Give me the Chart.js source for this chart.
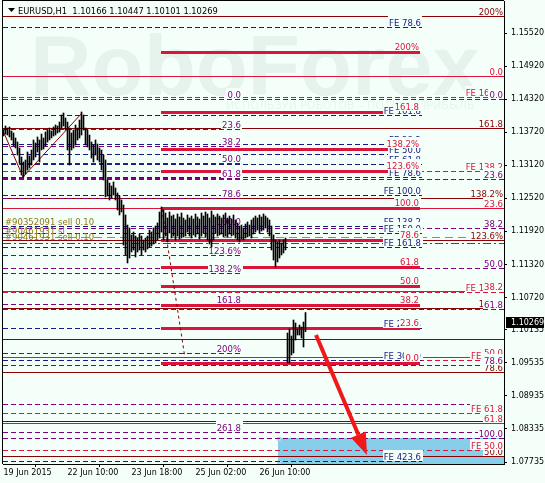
<!DOCTYPE html>
<html lang="en">
<head>
<meta charset="UTF-8" />
<title>EURUSD,H1</title>
<script src="https://cdn.jsdelivr.net/npm/chart.js"></script>
<style>
  html, body { margin: 0; padding: 0; background: #F5FFFA; }
  #wrap { width: 545px; height: 483px; }
</style>
</head>
<body>
<div id="wrap"><canvas id="chart" width="545" height="483"></canvas></div>
<script>
// quote shown in the title line
const symbolName = 'EURUSD,H1';
const quoteOHLC = [1.10166, 1.10447, 1.10101, 1.10269];

// H1 bars, 19 Jun 2015 02:00 .. 29 Jun 2015 09:00
const highs = [
  1.13760,1.13833,1.13796,1.13814,1.13742,1.13706,1.13615,1.13542,1.13433,1.13270,
  1.13179,1.13216,1.13361,1.13288,1.13397,1.13579,1.13524,1.13633,1.13579,1.13687,
  1.13615,1.13724,1.13760,1.13796,1.13742,1.13814,1.13851,1.13833,1.13905,1.14032,
  1.14069,1.13978,1.13905,1.13796,1.13706,1.13760,1.13851,1.13796,1.13941,1.14087,
  1.14032,1.13796,1.13760,1.13669,1.13542,1.13488,1.13579,1.13506,1.13433,1.13397,
  1.13306,1.13216,1.12853,1.12798,1.12744,1.12817,1.12707,1.12617,1.12563,1.12490,
  1.12399,1.12218,1.12036,1.11982,1.11855,1.11909,1.11836,1.11800,1.11873,1.11836,
  1.11764,1.11800,1.11836,1.11945,1.11909,1.11982,1.12018,1.12073,1.12272,1.12363,
  1.12308,1.12254,1.12163,1.12272,1.12199,1.12218,1.12145,1.12236,1.12181,1.12254,
  1.12163,1.12127,1.12218,1.12163,1.12199,1.12145,1.12236,1.12181,1.12145,1.12254,
  1.12199,1.12272,1.12236,1.12163,1.12290,1.12218,1.12181,1.12236,1.12199,1.12163,
  1.12218,1.12254,1.12163,1.12199,1.12145,1.12218,1.12127,1.12073,1.12018,1.12036,
  1.11982,1.12054,1.12091,1.12036,1.12127,1.12163,1.12199,1.12163,1.12218,1.12181,
  1.12236,1.12199,1.12163,1.12127,1.12018,1.11855,1.11764,1.11728,1.11764,1.11709,
  1.11764,1.11800,
  1.10076,1.10149,1.10022,1.10312,1.10258,1.10149,1.10221,1.10185,1.10276,1.10447
];
const lows = [
  1.13651,1.13687,1.13669,1.13633,1.13579,1.13470,1.13433,1.13306,1.13161,1.12944,
  1.12907,1.12962,1.13034,1.13070,1.13125,1.13216,1.13270,1.13361,1.13179,1.13397,
  1.13415,1.13470,1.13542,1.13579,1.13615,1.13651,1.13669,1.13706,1.13724,1.13796,
  1.13833,1.13760,1.13397,1.13125,1.13397,1.13433,1.13488,1.13579,1.13615,1.13669,
  1.13760,1.13488,1.13452,1.13397,1.13252,1.13179,1.13306,1.13216,1.13179,1.13034,
  1.12853,1.12545,1.12563,1.12490,1.12526,1.12581,1.12490,1.12308,1.12218,1.12272,
  1.11673,1.11492,1.11347,1.11437,1.11546,1.11583,1.11455,1.11546,1.11583,1.11492,
  1.11583,1.11546,1.11601,1.11637,1.11655,1.11691,1.11709,1.11764,1.11800,1.11909,
  1.11764,1.11836,1.11728,1.11891,1.11800,1.11836,1.11764,1.11836,1.11782,1.11800,
  1.11818,1.11836,1.11909,1.11836,1.11800,1.11855,1.11818,1.11873,1.11782,1.11836,
  1.11891,1.11818,1.11764,1.11691,1.11637,1.11764,1.11891,1.11836,1.11855,1.11873,
  1.11818,1.11836,1.11818,1.11873,1.11836,1.11855,1.11800,1.11764,1.11728,1.11782,
  1.11764,1.11800,1.11818,1.11836,1.11800,1.11873,1.11909,1.11945,1.11891,1.11927,
  1.11945,1.11982,1.11909,1.11836,1.11583,1.11401,1.11274,1.11365,1.11437,1.11492,
  1.11528,1.11583,
  1.09532,1.09532,1.09677,1.09714,1.09949,1.10040,1.10040,1.09985,1.09822,1.10101
];

// axes
const priceTicks = [1.15520, 1.14920, 1.14320, 1.13720, 1.13120, 1.12520, 1.11920,
  1.11320, 1.10720, 1.10135, 1.09535, 1.08935, 1.08335, 1.07735];
const timeTickBars = [0, 32, 64, 96, 128];
const timeTickLabels = ['19 Jun 2015', '22 Jun 10:00', '23 Jun 18:00', '25 Jun 02:00', '26 Jun 10:00'];
const priceMin = 1.07699, priceMax = 1.16101;
const barMin = -0.25, barMax = 250.25;

// fibo levels (price) and their captions
const maroonLevels = [1.15834, 1.13802, 1.12526, 1.11764, 1.10521, 1.09369, 1.08480, 1.07850];
const maroonTexts  = ['200%', '161.8', '138.2%', '123.6%', '100.0', '78.6', '61.8', '50.0'];
const crimsonDashLevels = [1.14364, 1.13022, 1.10826, 1.09592, 1.08625, 1.07953];
const crimsonDashTexts  = ['FE 161.8', 'FE 138.2', 'FE 100.0', 'FE 78.6', 'FE 61.8', 'FE 50.0'];
const crimsonLevels = [1.14740, 1.12339, 1.10844, 1.09635, 1.08434];
const crimsonTexts  = ['0.0', '23.6', '38.2', '50.0', '61.8'];
const purpleLevels = [1.14323, 1.12871, 1.11982, 1.11256, 1.10512, 1.09490, 1.08171];
const purpleTexts  = ['0.0', '23.6', '38.2', '50.0', '61.8', '78.6', '100.0'];
const violetLevels = [1.14323, 1.13787, 1.13470, 1.13170, 1.12898, 1.12517, 1.12018,
  1.11492, 1.11160, 1.10597, 1.09708, 1.08280];
const violetTexts  = ['0.0', '23.6', '38.2', '50.0', '61.8', '78.6', '100.0',
  '123.6%', '138.2%', '161.8', '200%', '261.8'];
const navyLevels = [1.15624, 1.14032, 1.13506, 1.13325, 1.13152, 1.12916, 1.12572,
  1.12018, 1.11891, 1.11642, 1.10167, 1.09581, 1.07748];
const navyTexts  = ['FE 78.6', 'FE 161.8', 'FE 38.2', 'FE 50.0', 'FE 61.8', 'FE 78.6', 'FE 100.0',
  'FE 138.2', 'FE 150.0', 'FE 161.8', 'FE 261.8', 'FE 300.0', 'FE 423.6'];
const thickLevels = [1.15181, 1.14092, 1.13415, 1.13011, 1.12345, 1.11764, 1.11274,
  1.10929, 1.10584, 1.10173, 1.09532];
const thickTexts  = ['200%', '161.8', '138.2%', '123.6%', '100.0', '78.6', '61.8',
  '50.0', '38.2', '23.6', '0.0'];
const extraMaroon = [1.09962];
const extraPurple = [1.08783, 1.08280];

// where the finite fibo objects end (bar index)
const violetEnd = 119.25, navyEnd = 209.25, thickStart = 78.75, thickEnd = 208.25;

// trade levels
const slLevel = 1.11824, openLevel = 1.11704;
const orderTexts = ['#90352091 sell 0.10', '#90461931 sl', '#90461931 sell 0.10'];

// drawn objects: [bar, price]
const trendPoints = [[0.25, 1.13706], [9.75, 1.12907], [39.25, 1.14068]];
const dashedPoints = [[79.25, 1.12327], [90.75, 1.09623]];
const arrowPoints = [[156.25, 1.10040], [181.75, 1.07863]];
const boxStart = 137.25, boxTop = 1.08171;

const BG = '#F5FFFA';
const FONT = '"DejaVu Sans", Tahoma, sans-serif';
const colors = {
  maroon: '#8B0000', crimson: '#DC143C', purple: '#800080', navy: '#1A1A80',
  orange: '#FF6A00', green: '#008000', order: '#8C7A14', arrow: '#F01818', box: '#87CEEB'
};

// size the title so it spans like the terminal's header
const probe = document.createElement('canvas').getContext('2d');
const titleText = symbolName + '  ' + quoteOHLC.map(v => v.toFixed(5)).join(' ');
probe.font = '10px ' + FONT;
const titleSize = Math.min(10, 10 * 200 / probe.measureText(titleText).width);

Chart.defaults.font.family = FONT;

const mt4 = {
  id: 'mt4',
  beforeDraw(chart) {
    const ctx = chart.ctx;
    ctx.save();
    ctx.fillStyle = BG;
    ctx.fillRect(0, 0, chart.width, chart.height);
    // watermark
    ctx.fillStyle = 'rgba(110,150,140,0.11)';
    ctx.font = 'bold 86px "Liberation Sans", Arial, sans-serif';
    ctx.textBaseline = 'alphabetic';
    ctx.textAlign = 'left';
    const w = ctx.measureText('RoboForex').width;
    ctx.save();
    ctx.translate(30, 95);
    ctx.scale(450 / w, 1);
    ctx.fillText('RoboForex', 0, 0);
    ctx.restore();
    ctx.font = '11px ' + FONT;
    ctx.fillStyle = 'rgba(110,150,140,0.10)';
    ctx.fillText('ИСПОЛЬЗУЙ РОБОТОВ – ПОЛУЧИ ПРИБЫЛЬ', 226, 109);
    ctx.restore();
  },
  beforeDatasetsDraw(chart) {
    const ctx = chart.ctx, X = chart.scales.x, Y = chart.scales.y, a = chart.chartArea;
    const px = b => X.getPixelForValue(b);
    const py = p => Math.round(Y.getPixelForValue(p)) + 0.5;
    ctx.save();
    ctx.beginPath();
    ctx.rect(a.left, a.top, a.right - a.left, a.bottom - a.top);
    ctx.clip();

    // target box with its corner handles
    const bx = Math.round(px(boxStart));
    const by = Math.round(Y.getPixelForValue(boxTop));
    ctx.fillStyle = colors.box;
    ctx.fillRect(bx, by, a.right - bx, a.bottom - by);
    ctx.fillStyle = '#A8DDF2';
    ctx.fillRect(bx - 1, by - 1, 4, 4);
    ctx.fillRect(bx - 1, a.bottom - 3, 4, 4);

    const line = (x1, x2, y, color, width, dash) => {
      ctx.strokeStyle = color;
      ctx.lineWidth = width;
      ctx.setLineDash(dash);
      ctx.beginPath();
      ctx.moveTo(x1, y);
      ctx.lineTo(x2, y);
      ctx.stroke();
    };
    const labels = [];
    const group = (levels, texts, color, x1, x2, width, dash, lift) => {
      levels.forEach((p, i) => {
        const y = py(p);
        line(x1, x2, y, color, width, dash);
        if (texts && texts[i]) labels.push([texts[i], color, x2 - 1, y - lift]);
      });
    };
    const L = a.left, R = a.right;
    group(maroonLevels, maroonTexts, colors.maroon, L, R, 1, [], 1.5);
    group(extraMaroon, null, colors.maroon, L, R, 1, [], 1.5);
    group(crimsonDashLevels, crimsonDashTexts, colors.crimson, L, R, 1, [5, 3], 1.5);
    group(crimsonLevels, crimsonTexts, colors.crimson, L, R, 1, [], 1.5);
    group(purpleLevels, purpleTexts, colors.purple, L, R, 1, [5, 3], 1.5);
    group(extraPurple, null, colors.purple, L, R, 1, [5, 3], 1.5);
    group(violetLevels, violetTexts, colors.purple, L, px(violetEnd), 1, [5, 3], 1.5);
    group(navyLevels, navyTexts, colors.navy, L, px(navyEnd), 1, [5, 3], 1.5);
    group(thickLevels, thickTexts, colors.crimson, px(thickStart), px(thickEnd), 3, [], 2.5);

    // trade lines
    line(L, R, py(slLevel), colors.orange, 1, [8, 5]);
    line(L, R, py(openLevel), colors.green, 1, [8, 3, 2, 3]);

    // trend line and dotted connector
    ctx.setLineDash([]);
    ctx.strokeStyle = colors.maroon;
    ctx.lineWidth = 1;
    ctx.beginPath();
    trendPoints.forEach(([b, p], i) => i ? ctx.lineTo(px(b), Y.getPixelForValue(p)) : ctx.moveTo(px(b), Y.getPixelForValue(p)));
    ctx.stroke();
    ctx.setLineDash([3, 3]);
    ctx.beginPath();
    dashedPoints.forEach(([b, p], i) => i ? ctx.lineTo(px(b), Y.getPixelForValue(p)) : ctx.moveTo(px(b), Y.getPixelForValue(p)));
    ctx.stroke();
    ctx.setLineDash([]);

    // captions, with a background like MT4
    ctx.font = '8.5px ' + FONT;
    ctx.textAlign = 'right';
    ctx.textBaseline = 'alphabetic';
    labels.forEach(([t, c, x, y]) => {
      const w = ctx.measureText(t).width;
      ctx.fillStyle = BG;
      ctx.fillRect(Math.round(x - w - 1), Math.round(y - 10), Math.ceil(w + 2), 11);
      ctx.fillStyle = c;
      ctx.fillText(t, Math.round(x), Math.round(y));
    });

    // order captions
    ctx.textAlign = 'left';
    ctx.fillStyle = colors.order;
    const ys = py(slLevel), yo = py(openLevel);
    ctx.fillText(orderTexts[0], 5, Math.round(ys - 13));
    ctx.fillText(orderTexts[1], 5, Math.round(ys - 4));
    ctx.fillText(orderTexts[2], 5, Math.round(yo - 4));
    ctx.restore();
  },
  afterDatasetsDraw(chart) {
    const ctx = chart.ctx, X = chart.scales.x, Y = chart.scales.y;
    const [[b1, p1], [b2, p2]] = arrowPoints;
    const x1 = X.getPixelForValue(b1), y1 = Y.getPixelForValue(p1);
    const x2 = X.getPixelForValue(b2), y2 = Y.getPixelForValue(p2);
    const ang = Math.atan2(y2 - y1, x2 - x1);
    const head = 22, half = 8;
    const bxp = x2 - head * Math.cos(ang), byp = y2 - head * Math.sin(ang);
    ctx.save();
    ctx.strokeStyle = colors.arrow;
    ctx.fillStyle = colors.arrow;
    ctx.lineWidth = 4;
    ctx.beginPath();
    ctx.moveTo(x1, y1);
    ctx.lineTo(bxp, byp);
    ctx.stroke();
    ctx.beginPath();
    ctx.moveTo(x2, y2);
    ctx.lineTo(bxp + half * Math.sin(ang), byp - half * Math.cos(ang));
    ctx.lineTo(bxp - half * Math.sin(ang), byp + half * Math.cos(ang));
    ctx.closePath();
    ctx.fill();
    ctx.restore();
  },
  afterDraw(chart) {
    const ctx = chart.ctx, a = chart.chartArea, Y = chart.scales.y;
    ctx.save();
    // frame
    ctx.strokeStyle = '#000';
    ctx.lineWidth = 1;
    ctx.beginPath();
    ctx.moveTo(a.left - 0.5, 0);
    ctx.lineTo(a.left - 0.5, a.bottom);
    ctx.moveTo(a.left, 0.5);
    ctx.lineTo(a.right, 0.5);
    ctx.stroke();
    // title
    ctx.fillStyle = '#000';
    ctx.beginPath();
    ctx.moveTo(8, 8); ctx.lineTo(15, 8); ctx.lineTo(11.5, 12);
    ctx.closePath();
    ctx.fill();
    ctx.font = titleSize.toFixed(2) + 'px ' + FONT;
    ctx.textAlign = 'left';
    ctx.textBaseline = 'alphabetic';
    ctx.fillText(titleText, 18, 14);
    // last price marker
    const yc = Math.round(Y.getPixelForValue(quoteOHLC[3]));
    ctx.font = '8px ' + FONT;
    ctx.fillRect(a.right + 2, yc - 5, 38, 11);
    ctx.fillStyle = '#fff';
    ctx.textBaseline = 'middle';
    ctx.fillText(quoteOHLC[3].toFixed(5), a.right + 7, yc + 0.5);
    ctx.restore();
  }
};

new Chart(document.getElementById('chart'), {
  type: 'bar',
  data: {
    datasets: [{
      data: highs.map((h, i) => ({ x: i, y: [lows[i], h] })),
      backgroundColor: '#000',
      borderWidth: 0,
      barThickness: 1,
      grouped: false
    }]
  },
  options: {
    responsive: false,
    animation: false,
    devicePixelRatio: 1,
    layout: { padding: { left: 3, top: 1, right: 0, bottom: 0 } },
    plugins: { legend: { display: false }, tooltip: { enabled: false } },
    scales: {
      x: {
        type: 'linear',
        min: barMin,
        max: barMax,
        offset: false,
        grid: { drawOnChartArea: false, drawTicks: true, tickLength: 3, color: '#000' },
        border: { display: true, color: '#000' },
        afterBuildTicks: s => { s.ticks = timeTickBars.map(v => ({ value: v })); },
        afterFit: s => { s.height = 19; s.paddingLeft = 0; s.paddingRight = 0; },
        ticks: {
          autoSkip: false, maxRotation: 0, align: 'start', padding: 1, color: '#000',
          font: { size: 8 },
          callback: v => timeTickLabels[timeTickBars.indexOf(v)]
        }
      },
      y: {
        position: 'right',
        min: priceMin,
        max: priceMax,
        grid: { drawOnChartArea: false, drawTicks: true, tickLength: 3, color: '#000' },
        border: { display: true, color: '#000' },
        afterBuildTicks: s => { s.ticks = priceTicks.map(v => ({ value: v })); },
        afterFit: s => { s.width = 41; s.paddingTop = 0; s.paddingBottom = 0; },
        ticks: { padding: 4, color: '#000', font: { size: 8 }, callback: v => v.toFixed(5) }
      }
    }
  },
  plugins: [mt4]
});
</script>
</body>
</html>
